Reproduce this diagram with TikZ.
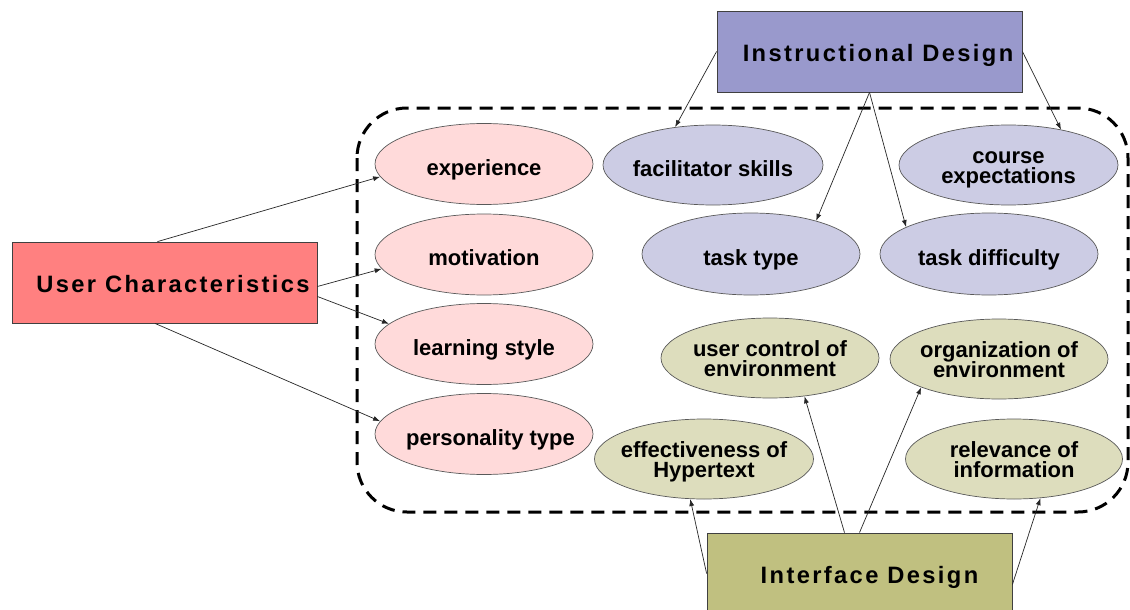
\documentclass[tikz,border=0pt]{standalone}
\usepackage{fontspec}
\setmainfont{Liberation Sans}
\newfontfamily\boxfont[LetterSpace=10]{Liberation Sans}
\usetikzlibrary{shapes.geometric,arrows.meta}
\definecolor{ucfill}{HTML}{FF8080}
\definecolor{idfill}{HTML}{9999CC}
\definecolor{iffill}{HTML}{C0C080}
\definecolor{pinkfill}{HTML}{FFDADA}
\definecolor{bluefill}{HTML}{CCCCE4}
\definecolor{olivefill}{HTML}{DDDDBD}
\newcommand\myovalfont{\bfseries\fontsize{22}{20}\selectfont\lineskiplimit=-20pt\relax}
\newcommand\oneline[1]{\rule{0pt}{27pt}#1\rule[-5pt]{0pt}{5pt}}
\newcommand\twolines[2]{\rule{0pt}{22.5pt}#1\\#2\rule[-5pt]{0pt}{5pt}}
\begin{document}
\begin{tikzpicture}[x=1pt,y=-1pt,
  bigbox/.style={draw=black!75, line width=0.8pt, minimum width=305pt, minimum height=81pt, inner sep=0pt,
     text height=20pt, text depth=0pt,
     font=\boxfont\bfseries\fontsize{23.7}{28}\selectfont},
  oval/.style={ellipse, draw=black!65, line width=0.7pt, inner xsep=-20pt, inner ysep=-8pt,
     minimum width=219pt, minimum height=81pt, align=center, font=\myovalfont},
  pinkoval/.style={oval, fill=pinkfill},
  blueoval/.style={oval, fill=bluefill},
  oliveoval/.style={oval, fill=olivefill},
  conn/.style={-{Latex[length=7pt,width=5pt]}, line width=0.7pt, black!85},
  frame/.style={draw=black, line width=3pt, dash pattern=on 13pt off 8pt, rounded corners=50pt}
]
\useasboundingbox (0,0) rectangle (1130,610);
\fill[white] (0,0) rectangle (1130,610);
\clip (0,0) rectangle (1130,610);

\draw[frame] (357,108) rectangle (1128,512);

\node[bigbox, fill=ucfill] (uc) at (164.5,282.5) {\hspace*{17pt}User Characteristics};
\node[bigbox, fill=idfill] (id) at (869.5,51.5) {\hspace*{17pt}Instructional Design};
\node[bigbox, fill=iffill] (if) at (859.5,573.5) {\hspace*{20pt}Interface Design};

\node[pinkoval, minimum width=218pt] (exp) at (484,164) {\oneline{experience}};
\node[pinkoval, minimum width=218pt] (mot) at (484,254.5) {\oneline{motivation}};
\node[pinkoval, minimum width=218pt] (ls) at (484,344) {\oneline{learning style}};
\node[pinkoval, minimum width=218pt] (pt) at (484,434) {\oneline{\hspace*{13pt}personality type}};

\node[blueoval, minimum width=220pt, minimum height=80pt] (fac) at (713,165) {\oneline{facilitator skills}};
\node[blueoval, minimum height=80pt] (ce) at (1008.5,165) {\twolines{course}{expectations}};
\node[blueoval, minimum width=218pt, minimum height=82pt] (tt) at (751,254) {\oneline{task type}};
\node[blueoval, minimum width=218pt, minimum height=82pt] (td) at (989,254) {\oneline{task difficulty}};

\node[oliveoval, minimum width=218pt, minimum height=80pt] (uce) at (770,358) {\twolines{user control of}{environment}};
\node[oliveoval, minimum width=218pt, minimum height=80pt] (org) at (999,359) {\twolines{organization of}{environment}};
\node[oliveoval, minimum height=80pt] (eh) at (704,459) {\twolines{effectiveness of}{Hypertext}};
\node[oliveoval, minimum width=217pt, minimum height=80pt] (ri) at (1014,459) {\twolines{relevance of}{information}};

\draw[conn] ([xshift=-7pt]uc.north) -- (exp.187);
\draw[conn] ([yshift=-4pt]uc.east) -- (mot.188);
\draw[conn] ([yshift=-14pt]uc.east) -- (ls.168);
\draw[conn] ([xshift=-9.5pt]uc.south) -- (pt.173);

\draw[conn] (id.west) -- (fac.135);
\draw[conn] (id.east) -- (ce.34);
\draw[conn] (id.south) -- (tt.27);
\draw[conn] (id.south) -- (td.162);

\draw[conn] (if.west) -- (eh.251);
\draw[conn] ([xshift=-15pt]if.north) -- (uce.312);
\draw[conn] (if.north) -- (org.200);
\draw[conn] ([yshift=-11pt]if.east) -- (ri.304);
\end{tikzpicture}
\end{document}
